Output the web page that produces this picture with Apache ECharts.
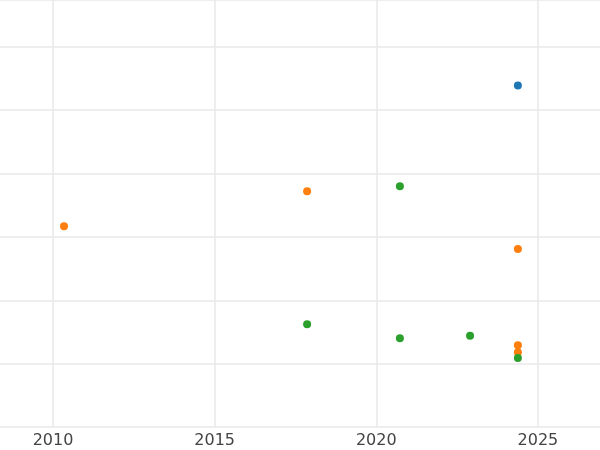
<!DOCTYPE html><html><head><meta charset="utf-8"><script src="https://cdn.jsdelivr.net/npm/echarts@6/dist/echarts.min.js"></script></head><body style="margin:0"><div id="c" style="width:600px;height:450px"></div><script>
const xTicks=[2010,2015,2020,2025];
const blue=[[2024.38,5.39]];
const orange=[[2010.34,3.17],[2017.86,3.72],[2024.38,2.81],[2024.38,1.29],[2024.38,1.18]];
const green=[[2020.73,3.80],[2017.86,1.62],[2020.73,1.40],[2022.9,1.44],[2024.38,1.09]];
const ch=echarts.init(document.getElementById('c'));
const s=(d,c)=>({type:'scatter',data:d,symbolSize:8,itemStyle:{color:c,opacity:1},z:5});
const gl={type:'scatter',data:[],silent:true,markLine:{silent:true,symbol:'none',label:{show:false},
 lineStyle:{color:'#e8e8e8',width:1.5,type:'solid'},data:xTicks.map(v=>({xAxis:v}))}};
ch.setOption({animation:false,
grid:{left:0,right:0,top:0,bottom:23,containLabel:false},
xAxis:{type:'value',min:2008.36,max:2026.92,axisLine:{show:false},axisTick:{show:false},
 axisLabel:{color:'#444',fontSize:16,fontFamily:'DejaVu Sans',margin:6,customValues:xTicks,formatter:v=>String(v)},
 splitLine:{show:false}},
yAxis:{type:'value',min:0,max:6.74,interval:1,axisLabel:{show:false},axisLine:{show:false},axisTick:{show:false},
 splitLine:{lineStyle:{color:'#e8e8e8',width:1.5}}},
series:[gl,s(blue,'#1f77b4'),s(orange,'#ff7f0e'),s(green,'#2ca02c')]});
</script></body></html>
